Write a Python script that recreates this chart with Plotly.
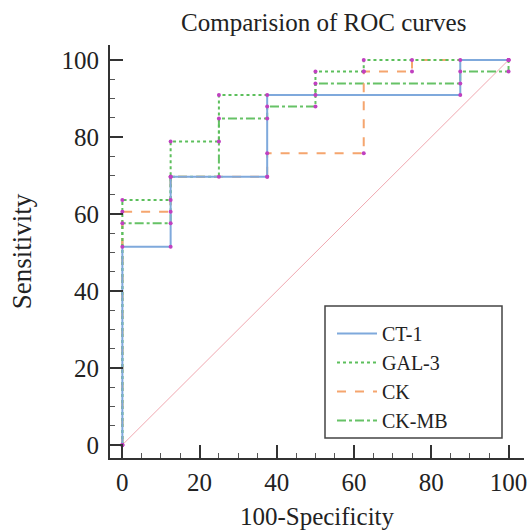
import plotly.graph_objects as go

# ROC curve data (x = 100-Specificity, y = Sensitivity)
ct1_x = [0, 0, 12.5, 12.5, 37.5, 37.5, 87.5, 87.5, 100]
ct1_y = [0, 51.5, 51.5, 69.7, 69.7, 90.9, 90.9, 100, 100]

gal3_x = [0, 0, 12.5, 12.5, 25, 25, 50, 50, 62.5, 62.5, 100]
gal3_y = [0, 63.6, 63.6, 78.8, 78.8, 90.9, 90.9, 97.0, 97.0, 100, 100]

ck_x = [0, 0, 12.5, 12.5, 37.5, 37.5, 62.5, 62.5, 75, 75, 100]
ck_y = [0, 60.6, 60.6, 69.7, 69.7, 75.8, 75.8, 97.0, 97.0, 100, 100]

ckmb_x = [0, 0, 12.5, 12.5, 25, 25, 37.5, 37.5, 50, 50, 87.5, 87.5, 100, 100]
ckmb_y = [0, 57.6, 57.6, 69.7, 69.7, 84.8, 84.8, 87.9, 87.9, 93.9, 93.9, 97.0, 97.0, 100]

diag_x = [0, 100]
diag_y = [0, 100]

tick_vals = [0, 20, 40, 60, 80, 100]

FONT = "Liberation Serif"
FS = 25
TXT = "#222222"
MARK = dict(color="#c040c0", size=4)

series = [
    ("CT-1", ct1_x, ct1_y, dict(color="#7fa9dc", width=2)),
    ("GAL-3", gal3_x, gal3_y, dict(color="#5cbf5c", width=2, dash="dot")),
    ("CK", ck_x, ck_y, dict(color="#f5a56e", width=2, dash="dash")),
    ("CK-MB", ckmb_x, ckmb_y, dict(color="#66c266", width=2, dash="dashdot")),
]

fig = go.Figure()
fig.add_trace(go.Scatter(x=diag_x, y=diag_y, mode="lines",
                         line=dict(color="#f0a8b0", width=1), showlegend=False, hoverinfo="skip"))
for rank, (name, xs, ys, ln) in reversed(list(enumerate(series))):
    fig.add_trace(go.Scatter(x=xs, y=ys, mode="lines", name=name, line=ln, legendrank=rank + 1))
for name, xs, ys, ln in series:
    fig.add_trace(go.Scatter(x=xs, y=ys, mode="markers", marker=MARK, showlegend=False,
                             name=name + " points"))

axis_common = dict(
    showgrid=False, zeroline=False, showline=True, linecolor="#333333", linewidth=2,
    ticks="inside", ticklen=13, tickwidth=2, tickcolor="#333333",
    tickvals=tick_vals, tickfont=dict(family=FONT, size=FS, color=TXT),
    minor=dict(ticks="inside", ticklen=5, tickwidth=1, tickcolor="#555555", dtick=5),
    mirror=False, automargin=False,
)

# plot area: x 110..524, y 45..458 (px)
PL, PR, PT, PB = 110, 524, 45, 458
def px_x(v):
    return (v - PL) / (PR - PL)
def px_y(v):
    return (PB - v) / (PB - PT)

fig.update_layout(
    width=529, height=530,
    margin=dict(l=PL, r=529 - PR, t=PT, b=530 - PB, autoexpand=False),
    paper_bgcolor="white", plot_bgcolor="white",
    title=dict(text="Comparision of ROC curves", x=0.612, xanchor="center",
               y=0.958, yanchor="middle", font=dict(family=FONT, size=FS, color=TXT)),
    xaxis=dict(range=[-3.2, 104], title=dict(text="100-Specificity", standoff=13,
               font=dict(family=FONT, size=FS, color=TXT)),
               ticklabelstandoff=1, **axis_common),
    yaxis=dict(range=[-3.4, 103.9], title=dict(text="Sensitivity", standoff=22,
               font=dict(family=FONT, size=27, color=TXT)),
               ticklabelstandoff=4, **axis_common),
    legend=dict(x=px_x(332), y=px_y(314), xanchor="left", yanchor="top",
                borderwidth=0, bgcolor="rgba(0,0,0,0)",
                font=dict(family=FONT, size=20, color=TXT),
                tracegroupgap=0, itemwidth=40),
    shapes=[dict(type="rect", xref="paper", yref="paper",
                 x0=px_x(325), x1=px_x(502), y0=px_y(438), y1=px_y(306),
                 line=dict(color="#444444", width=1.5), fillcolor="white", layer="below")],
    showlegend=True,
)

fig.write_html("out.html", config={"displayModeBar": False},
               post_script="document.body.style.margin='0';")
